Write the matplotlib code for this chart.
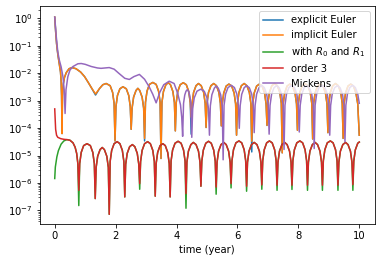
import matplotlib

matplotlib.use("Agg")
import matplotlib.pyplot as plt

# values (time in years, absolute error)

# order 3 : start, then one row per arch (dip first)
o3_t = [
    0.0, 0.015, 0.03, 0.06, 0.1, 0.2, 0.3, 0.4, 0.5, 0.6, 0.67, 0.72, 0.76,
    0.79, 0.82, 0.87, 0.95, 1.06, 1.17, 1.25, 1.30,
    1.33, 1.36, 1.41, 1.49, 1.56, 1.63, 1.71, 1.76,
    1.79, 1.82, 1.87, 1.95, 2.05, 2.14, 2.22, 2.27,
    2.30, 2.33, 2.38, 2.46, 2.55, 2.63, 2.71, 2.76,
    2.79, 2.82, 2.87, 2.95, 3.05, 3.14, 3.22, 3.27,
    3.30, 3.33, 3.38, 3.46, 3.55, 3.63, 3.71, 3.76,
    3.79, 3.82, 3.87, 3.95, 4.05, 4.15, 4.23, 4.28,
    4.31, 4.34, 4.39, 4.47, 4.55, 4.64, 4.72, 4.77,
    4.80, 4.83, 4.88, 4.96, 5.05, 5.14, 5.22, 5.27,
    5.30, 5.33, 5.38, 5.46, 5.55, 5.63, 5.71, 5.76,
    5.79, 5.82, 5.87, 5.95, 6.05, 6.14, 6.22, 6.27,
    6.30, 6.33, 6.38, 6.46, 6.55, 6.64, 6.72, 6.77,
    6.80, 6.83, 6.88, 6.96, 7.05, 7.14, 7.22, 7.27,
    7.30, 7.33, 7.38, 7.46, 7.55, 7.63, 7.71, 7.76,
    7.79, 7.82, 7.87, 7.95, 8.05, 8.14, 8.22, 8.27,
    8.30, 8.33, 8.38, 8.46, 8.55, 8.63, 8.71, 8.76,
    8.79, 8.82, 8.87, 8.95, 9.05, 9.14, 9.22, 9.27,
    9.30, 9.33, 9.38, 9.46, 9.55, 9.63, 9.71, 9.76,
    9.79, 9.82, 9.87, 9.95, 10.0,
]
o3_y = [
    5e-4, 2e-4, 9e-5, 5.5e-5, 4.6e-5, 4.1e-5, 3.9e-5, 3.8e-5, 3.6e-5, 2.9e-5, 2.0e-5, 1.2e-5, 5e-6,
    5.4e-7, 5.1e-6, 1.3e-5, 2.3e-5, 2.7e-5, 2.3e-5, 1.3e-5, 5.1e-6,
    2.7e-7, 3.7e-6, 9.4e-6, 1.65e-5, 1.96e-5, 1.65e-5, 9.4e-6, 3.7e-6,
    7.2e-8, 6.1e-6, 1.54e-5, 2.7e-5, 3.2e-5, 2.7e-5, 1.54e-5, 6.1e-6,
    3.1e-7, 4.8e-6, 1.2e-5, 2.1e-5, 2.5e-5, 2.1e-5, 1.2e-5, 4.8e-6,
    9.5e-7, 6.1e-6, 1.54e-5, 2.7e-5, 3.2e-5, 2.7e-5, 1.54e-5, 6.1e-6,
    3.3e-7, 5.1e-6, 1.3e-5, 2.3e-5, 2.7e-5, 2.3e-5, 1.3e-5, 5.1e-6,
    3.1e-7, 6.3e-6, 1.58e-5, 2.8e-5, 3.3e-5, 2.8e-5, 1.58e-5, 6.3e-6,
    4.1e-7, 5.7e-6, 1.44e-5, 2.5e-5, 3.0e-5, 2.5e-5, 1.44e-5, 5.7e-6,
    7.6e-7, 6.3e-6, 1.58e-5, 2.8e-5, 3.3e-5, 2.8e-5, 1.58e-5, 6.3e-6,
    7.1e-7, 5.7e-6, 1.44e-5, 2.5e-5, 3.0e-5, 2.5e-5, 1.44e-5, 5.7e-6,
    9.5e-7, 6.5e-6, 1.63e-5, 2.9e-5, 3.4e-5, 2.9e-5, 1.63e-5, 6.5e-6,
    7.6e-7, 5.7e-6, 1.44e-5, 2.5e-5, 3.0e-5, 2.5e-5, 1.44e-5, 5.7e-6,
    8.5e-7, 6.5e-6, 1.63e-5, 2.9e-5, 3.4e-5, 2.9e-5, 1.63e-5, 6.5e-6,
    8.3e-7, 5.7e-6, 1.44e-5, 2.5e-5, 3.0e-5, 2.5e-5, 1.44e-5, 5.7e-6,
    8.3e-7, 6.5e-6, 1.63e-5, 2.9e-5, 3.4e-5, 2.9e-5, 1.63e-5, 6.5e-6,
    8.3e-7, 5.7e-6, 1.44e-5, 2.5e-5, 3.0e-5, 2.5e-5, 1.44e-5, 5.7e-6,
    8.3e-7, 6.5e-6, 1.63e-5, 2.9e-5, 3.4e-5, 2.9e-5, 1.63e-5, 6.5e-6,
    8.3e-7, 5.7e-6, 1.44e-5, 2.5e-5, 3.0e-5, 2.5e-5, 1.44e-5, 5.7e-6,
    8.7e-7, 6.3e-6, 1.6e-5, 2.8e-5, 3.1e-5,
]

# "with R0 and R1": own start, then follows order 3 except at the dips
r01_head_t = [0.0, 0.02, 0.07, 0.12, 0.21, 0.3]
r01_head_y = [1.45e-6, 3.8e-6, 8.9e-6, 1.5e-5, 2.6e-5, 3.4e-5]
r01_dips = {
    0.79: 1.5e-7, 2.79: 5.9e-7, 4.31: 1.2e-7, 5.30: 3.9e-7, 5.79: 6.6e-7,
    6.30: 5e-7, 6.80: 5.9e-7, 7.30: 5.4e-7, 7.79: 5.8e-7, 8.30: 5.4e-7,
    8.79: 5.4e-7, 9.30: 5.4e-7, 9.79: 5.4e-7,
}

# implicit Euler
impl_t = [
    0.0, 0.03, 0.06, 0.1, 0.15, 0.19, 0.21, 0.225, 0.24, 0.255, 0.28, 0.32,
    0.38, 0.47, 0.57, 0.7, 0.85, 0.98, 1.1, 1.2, 1.34, 1.47, 1.58, 1.69,
    1.82, 1.90, 1.95,
    1.98, 2.01, 2.06, 2.14, 2.24, 2.35, 2.43, 2.48,
    2.51, 2.54, 2.59, 2.67, 2.73, 2.79, 2.87, 2.92,
    2.95, 2.98, 3.03, 3.11, 3.22, 3.33, 3.41, 3.46,
    3.49, 3.52, 3.57, 3.65, 3.73, 3.80, 3.88, 3.93,
    3.96, 3.99, 4.04, 4.12, 4.22, 4.32, 4.40, 4.45,
    4.48, 4.51, 4.56, 4.64, 4.72, 4.81, 4.89, 4.94,
    4.97, 5.00, 5.05, 5.13, 5.22, 5.31, 5.39, 5.44,
    5.47, 5.50, 5.55, 5.63, 5.72, 5.81, 5.89, 5.94,
    5.97, 6.00, 6.05, 6.13, 6.22, 6.31, 6.39, 6.44,
    6.47, 6.50, 6.55, 6.63, 6.72, 6.81, 6.89, 6.94,
    6.97, 7.00, 7.05, 7.13, 7.22, 7.31, 7.39, 7.44,
    7.47, 7.50, 7.55, 7.63, 7.72, 7.81, 7.89, 7.94,
    7.97, 8.00, 8.05, 8.13, 8.22, 8.31, 8.39, 8.44,
    8.47, 8.50, 8.55, 8.63, 8.72, 8.81, 8.89, 8.94,
    8.97, 9.00, 9.05, 9.13, 9.22, 9.31, 9.39, 9.44,
    9.47, 9.50, 9.55, 9.63, 9.72, 9.81, 9.89, 9.95, 10.0,
]
impl_y = [
    1.1, 0.33, 0.12, 0.05, 0.022, 0.011, 5e-3, 1.5e-3, 6.3e-5, 1.5e-3, 4e-3, 7e-3,
    1.05e-2, 1.45e-2, 1.6e-2, 1.45e-2, 1.1e-2, 7.5e-3, 4.6e-3, 3.0e-3, 1.75e-3, 2.75e-3, 3.8e-3, 4.2e-3,
    3.5e-3, 2e-3, 8e-4,
    3.4e-5, 6.1e-4, 1.54e-3, 2.7e-3, 3.2e-3, 2.7e-3, 1.54e-3, 6.1e-4,
    9e-5, 5.3e-4, 1.34e-3, 2.35e-3, 2.8e-3, 2.35e-3, 1.34e-3, 5.3e-4,
    4.2e-5, 8.7e-4, 2.2e-3, 3.9e-3, 4.6e-3, 3.9e-3, 2.2e-3, 8.7e-4,
    7.8e-6, 8.5e-4, 2.15e-3, 3.8e-3, 4.5e-3, 3.8e-3, 2.15e-3, 8.5e-4,
    7.9e-5, 8.5e-4, 2.15e-3, 3.8e-3, 4.5e-3, 3.8e-3, 2.15e-3, 8.5e-4,
    2.5e-4, 8e-4, 2e-3, 3.5e-3, 4.2e-3, 3.5e-3, 2e-3, 8e-4,
    1.05e-4, 8e-4, 2e-3, 3.5e-3, 4.2e-3, 3.5e-3, 2e-3, 8e-4,
    1.2e-4, 7.6e-4, 1.9e-3, 3.4e-3, 4.0e-3, 3.4e-3, 1.9e-3, 7.6e-4,
    5.5e-5, 8e-4, 2e-3, 3.5e-3, 4.2e-3, 3.5e-3, 2e-3, 8e-4,
    3.3e-5, 7.6e-4, 1.9e-3, 3.4e-3, 4.0e-3, 3.4e-3, 1.9e-3, 7.6e-4,
    1.25e-4, 8e-4, 2e-3, 3.5e-3, 4.2e-3, 3.5e-3, 2e-3, 8e-4,
    1.25e-5, 7.6e-4, 1.9e-3, 3.4e-3, 4.0e-3, 3.4e-3, 1.9e-3, 7.6e-4,
    8.3e-5, 8e-4, 2e-3, 3.5e-3, 4.2e-3, 3.5e-3, 2e-3, 8e-4,
    4e-5, 7.6e-4, 1.9e-3, 3.4e-3, 4.0e-3, 3.4e-3, 1.9e-3, 7.6e-4,
    6.8e-5, 8e-4, 2e-3, 3.5e-3, 4.2e-3, 3.5e-3, 2e-3, 8e-4,
    4.2e-5, 7.6e-4, 1.9e-3, 3.4e-3, 4.0e-3, 3.4e-3, 1.9e-3, 7.6e-4, 5.5e-5,
]

# explicit Euler: same as implicit except at a few dips
expl_fix = {1.34: 1.6e-3, 2.95: 3.4e-5, 4.48: 6e-5, 6.47: 1.35e-5}

# Mickens
mick_t = [
    0.0, 0.05, 0.1, 0.15, 0.21, 0.27, 0.31, 0.34, 0.37, 0.43, 0.5, 0.6,
    0.76, 0.87, 1.0, 1.2, 1.4, 1.52, 1.65, 1.79, 1.95, 2.1, 2.3, 2.45,
    2.6, 2.78, 2.95, 3.1, 3.22, 3.33, 3.45, 3.58, 3.76, 3.92, 4.04, 4.13, 4.17,
    4.20, 4.23, 4.27, 4.31, 4.35, 4.39, 4.43, 4.47,
    4.50, 4.53, 4.58, 4.67, 4.79, 4.91, 5.00, 5.05,
    5.08, 5.11, 5.16, 5.24, 5.30, 5.37, 5.45, 5.50,
    5.53, 5.56, 5.61, 5.69, 5.80, 5.90, 5.98, 6.03,
    6.06, 6.09, 6.14, 6.22, 6.30, 6.39, 6.47, 6.52,
    6.55, 6.58, 6.63, 6.71, 6.80, 6.88, 6.96, 7.01,
    7.04, 7.07, 7.12, 7.20, 7.28, 7.37, 7.45, 7.50,
    7.53, 7.56, 7.61, 7.69, 7.78, 7.87, 7.95, 8.00,
    8.03, 8.06, 8.11, 8.19, 8.27, 8.36, 8.44, 8.49,
    8.52, 8.55, 8.60, 8.68, 8.77, 8.87, 8.95, 9.00,
    9.03, 9.06, 9.11, 9.19, 9.28, 9.37, 9.45, 9.50,
    9.53, 9.56, 9.61, 9.69, 9.78, 9.87, 9.95, 10.0,
]
mick_y = [
    1.1, 0.22, 0.06, 0.03, 1.7e-2, 7.4e-3, 2.5e-3, 3.4e-4, 2.5e-3, 7.4e-3, 1.3e-2, 1.75e-2,
    2.2e-2, 2.25e-2, 2.1e-2, 1.75e-2, 1.55e-2, 1.5e-2, 1.55e-2, 1.6e-2, 1.4e-2, 1.0e-2, 6.5e-3, 5.9e-3,
    7.5e-3, 9e-3, 6e-3, 3.2e-3, 1.7e-3, 8.3e-4, 2e-3, 3.8e-3, 5.1e-3, 4.2e-3, 1.8e-3, 7e-4, 2.5e-4,
    5e-5, 8e-4, 1.6e-3, 2.2e-3, 2.5e-3, 2.2e-3, 1.6e-3, 8e-4,
    4.6e-5, 5e-4, 1.25e-3, 2.2e-3, 2.6e-3, 2.2e-3, 1.25e-3, 5e-4,
    5.5e-5, 6.5e-4, 1.63e-3, 2.85e-3, 3.4e-3, 2.85e-3, 1.63e-3, 6.5e-4,
    7e-6, 6.8e-4, 1.73e-3, 3.0e-3, 3.6e-3, 3.0e-3, 1.73e-3, 6.8e-4,
    9.8e-5, 6.7e-4, 1.7e-3, 2.95e-3, 3.5e-3, 2.95e-3, 1.7e-3, 6.7e-4,
    6.8e-5, 6.8e-4, 1.73e-3, 3.0e-3, 3.6e-3, 3.0e-3, 1.73e-3, 6.8e-4,
    6e-5, 6.7e-4, 1.7e-3, 2.95e-3, 3.5e-3, 2.95e-3, 1.7e-3, 6.7e-4,
    1.66e-5, 6.8e-4, 1.73e-3, 3.0e-3, 3.6e-3, 3.0e-3, 1.73e-3, 6.8e-4,
    7.2e-5, 6.7e-4, 1.7e-3, 2.95e-3, 3.5e-3, 2.95e-3, 1.7e-3, 6.7e-4,
    1.8e-5, 6.8e-4, 1.73e-3, 3.0e-3, 3.6e-3, 3.0e-3, 1.73e-3, 6.8e-4,
    5.5e-5, 6.7e-4, 1.7e-3, 2.95e-3, 3.5e-3, 2.95e-3, 1.7e-3, 6.7e-4,
    3.2e-5, 6.8e-4, 1.73e-3, 3.0e-3, 3.6e-3, 3.0e-3, 1.73e-3, 8e-4,
]

expl_y = [expl_fix.get(t, y) for t, y in zip(impl_t, impl_y)]
k = o3_t.index(0.4)
r01_t = r01_head_t + o3_t[k:]
r01_y = r01_head_y + [r01_dips.get(t, y) for t, y in zip(o3_t[k:], o3_y[k:])]

fig = plt.figure(figsize=(380 / 72, 262 / 72), dpi=72)
ax = fig.add_axes([39.5 / 380, 38 / 262, 335 / 380, 218 / 262])
ax.semilogy(impl_t, expl_y, label="explicit Euler")
ax.semilogy(impl_t, impl_y, label="implicit Euler")
ax.semilogy(r01_t, r01_y, label="with $R_0$ and $R_1$")
ax.semilogy(o3_t, o3_y, label="order 3")
ax.semilogy(mick_t, mick_y, label="Mickens")
ax.set_ylim(3.2e-8, 2.8)
ax.set_xlabel("time (year)")
ax.legend(loc="upper right")

fig.savefig("out.png", dpi=72)
